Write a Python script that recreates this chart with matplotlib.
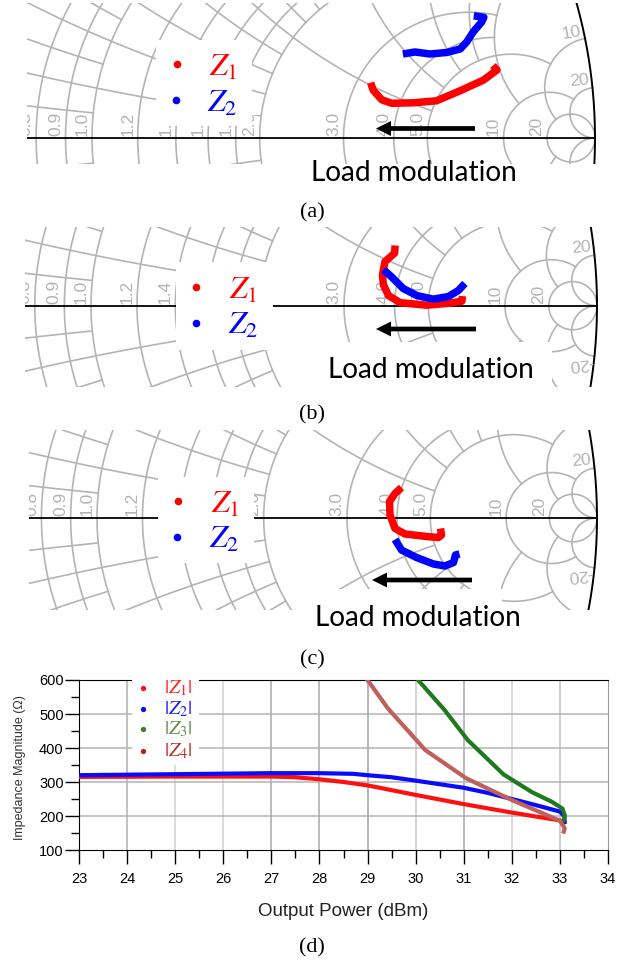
import numpy as np
import matplotlib
matplotlib.use("Agg")
import matplotlib.pyplot as plt
from matplotlib.patches import Rectangle, FancyArrow

plt.rcParams['font.family'] = ['Liberation Sans', 'DejaVu Sans']
plt.rcParams['mathtext.fontset'] = 'stix'

W, H = 625, 964
GRAY = '#b4b4b4'

# smith grid: constant resistance circles and how far they run in reactance
r_values = [0.8, 0.9, 1.0, 1.2, 1.4, 1.6, 1.8, 2.0, 3.0, 4.0, 5.0, 10.0, 20.0]
r_xlimit = [5, 5, 5, 5, 5, 5, 5, 5, 5, 5, 10, 20, 5000]

# constant reactance arcs and how far they run in resistance
x_values = [0.1, 0.2, 0.3, 0.4, 0.5, 0.6, 0.8, 1.0, 1.2, 1.4, 2.0, 3.0, 4.0, 5.0, 10.0, 20.0]
x_rlimit = [1, 2, 1, 2, 1, 2, 2, 5, 2, 2, 5, 5, 5, 10, 20, 5000]

r_labels = ['0.8', '0.9', '1.0', '1.2', '1.4', '1.6', '1.8', '2.0', '3.0', '4.0', '5.0', '10', '20']

# impedance trajectories, reflection coefficient (re, im)
a_z1_re = [.554, .559, .576, .596, .639, .685, .732, .778, .805, .797]
a_z1_im = [.110, .095, .076, .069, .070, .074, .094, .115, .135, .144]
a_z2_re = [.618, .642, .672, .705, .732, .745, .758, .775, .779, .759]
a_z2_im = [.167, .171, .167, .170, .177, .191, .211, .231, .240, .243]

b_z1_re = [.601, .600, .581, .576, .578, .588, .611, .663, .709, .733, .734]
b_z1_im = [.119, .104, .087, .061, .041, .020, .006, .001, .005, .009, .019]
b_z2_re = [.578, .594, .617, .644, .676, .706, .726, .739]
b_z2_im = [.071, .057, .034, .020, .013, .018, .030, .044]

c_z1_re = [.609, .596, .585, .586, .596, .616, .659, .683, .689, .687]
c_z1_im = [.061, .049, .033, .006, -.021, -.032, -.037, -.039, -.034, -.021]
c_z2_re = [.596, .609, .639, .673, .696, .713, .717, .725]
c_z2_im = [-.043, -.064, -.079, -.092, -.096, -.089, -.074, -.072]

# panel (d)
power_z1 = [23, 25, 27, 27.5, 28, 28.5, 29, 30, 31, 32, 33, 33.08]
mag_z1 = [315, 316, 316, 314, 308, 300, 290, 262, 235, 210, 187, 180]
power_z2 = [23, 25, 27, 28, 28.7, 29, 29.5, 30, 31, 31.5, 32, 32.5, 33, 33.09, 33.1]
mag_z2 = [320, 323, 326, 326, 324, 320, 314, 304, 283, 268, 250, 232, 213, 200, 183]
power_z3 = [30.05, 30.6, 31.08, 31.83, 32.42, 32.83, 33.05, 33.1, 33.08]
mag_z3 = [600, 512, 424, 322, 270, 242, 222, 203, 188]
power_z4 = [29.0, 29.42, 30.2, 31.05, 32, 33, 33.1, 33.08]
mag_z4 = [600, 517, 394, 311, 247, 186, 164, 154]

fig = plt.figure(figsize=(W / 100, H / 100), dpi=100)


def fig_text(x, y, s, **kw):
    return fig.text(x / W, 1 - y / H, s, **kw)


def smith_panel(cx, y0, R, left, right, top, bottom, masks, hidden):
    ax = fig.add_axes([left / W, 1 - bottom / H, (right - left) / W, (bottom - top) / H])
    ax.set_xlim((left - cx) / R, (right - cx) / R)
    ax.set_ylim((y0 - bottom) / R, (y0 - top) / R)
    ax.set_axis_off()

    for r, xlim in zip(r_values, r_xlimit):
        t = np.linspace(-np.arctan(xlim), np.arctan(xlim), 1500)
        g = (r + 1j * np.tan(t) - 1) / (r + 1j * np.tan(t) + 1)
        ax.plot(g.real, g.imag, color=GRAY, lw=1.2, zorder=1)
    for x, rlim in zip(x_values, x_rlimit):
        t = np.linspace(0, np.arctan(rlim), 1500)
        for sign in (1, -1):
            z = np.tan(t) + 1j * sign * x
            g = (z - 1) / (z + 1)
            ax.plot(g.real, g.imag, color=GRAY, lw=1.2, zorder=1)

    for r, lab in zip(r_values, r_labels):
        if lab in hidden:
            continue  # sits fully under the legend patch in the original
        ax.text((r - 1) / (r + 1) - 0.005, 0.003, lab, rotation=90, ha='right', va='bottom',
                color=GRAY, fontsize=12.5, clip_on=True, zorder=1)

    # outer circle and real axis
    th = np.linspace(-0.6, 0.6, 400)
    ax.plot(np.cos(th), np.sin(th), color='black', lw=1.4, zorder=3)
    ax.plot([-1, 1], [0, 0], color='black', lw=1.3, zorder=2)

    for mx0, mx1, my0, my1 in masks:
        ax.add_patch(Rectangle(((mx0 - cx) / R, (y0 - my1) / R), (mx1 - mx0) / R, (my1 - my0) / R,
                               facecolor='white', edgecolor='none', zorder=3.5))
    return ax


def trajectory(ax, re, im, color):
    ax.plot(re, im, color=color, lw=5.4, solid_capstyle='butt', solid_joinstyle='round', zorder=4)


def arrow(ax, cx, y0, R, tail, tip, y):
    ax.add_patch(FancyArrow((tail - cx) / R, (y0 - y) / R, (tip - tail) / R, 0,
                            width=4.7 / R, head_width=15 / R, head_length=15 / R,
                            length_includes_head=True, color='black', lw=0, zorder=5))


def legend_marks(ax, cx, y0, R, dots, labels):
    for (px, py), col in zip(dots, ['#ff0000', '#0000ff']):
        ax.plot([(px - cx) / R], [(y0 - py) / R], 'o', color=col, ms=5.5, mew=0, zorder=6)
    for (px, py), s, col in zip(labels, ['$Z_1$', '$Z_2$'], ['#ff0000', '#0000ff']):
        fig_text(px, py, s, color=col, fontsize=23, ha='left', va='baseline')


# (a)
ax_a = smith_panel(92, 138, 503, 27, 598, 3, 164, [(156, 252, 40, 126), (252, 260, 100, 115)], [])
trajectory(ax_a, a_z1_re, a_z1_im, '#ff0000')
trajectory(ax_a, a_z2_re, a_z2_im, '#0000ff')
arrow(ax_a, 92, 138, 503, 475, 376, 128.5)
legend_marks(ax_a, 92, 138, 503, [(176.7, 64), (175.7, 100)], [(209, 76), (207, 112)])
ax_a.text(.954, .208, '10', rotation=10, color=GRAY, fontsize=12.5, ha='center', va='center', clip_on=True)
ax_a.text(.969, .113, '20', rotation=5, color=GRAY, fontsize=12.5, ha='center', va='center', clip_on=True)

# (b)
ax_b = smith_panel(91, 305.7, 506, 25, 600, 227, 387, [(176, 273, 262, 350), (295, 552, 342, 388)],
                   ['1.6', '1.8', '2.0'])
trajectory(ax_b, b_z1_re, b_z1_im, '#ff0000')
trajectory(ax_b, b_z2_re, b_z2_im, '#0000ff')
arrow(ax_b, 91, 305.7, 506, 476, 376, 329)
legend_marks(ax_b, 91, 305.7, 506, [(196.3, 287), (195.7, 322.7)], [(229, 298.5), (228, 334)])
ax_b.text(.970, .115, '20', rotation=5, color=GRAY, fontsize=12.5, ha='center', va='center', clip_on=True)
ax_b.text(.968, -.114, '-20', rotation=185, color=GRAY, fontsize=12.5, ha='center', va='center', clip_on=True)

# (c)
ax_c = smith_panel(97, 518, 500, 29, 600, 430, 610, [(158, 254, 477, 563), (305, 502, 589, 611)],
                   ['1.4', '1.6', '1.8'])
trajectory(ax_c, c_z1_re, c_z1_im, '#ff0000')
trajectory(ax_c, c_z2_re, c_z2_im, '#0000ff')
arrow(ax_c, 97, 518, 500, 472, 372, 580)
legend_marks(ax_c, 97, 518, 500, [(178, 500.7), (177, 536.7)], [(211, 512.5), (209, 548)])
ax_c.text(.969, .115, '20', rotation=5, color=GRAY, fontsize=12.5, ha='center', va='center', clip_on=True)
ax_c.text(.966, -.114, '-20', rotation=185, color=GRAY, fontsize=12.5, ha='center', va='center', clip_on=True)

for px, py in [(311, 173), (328, 370), (315, 618)]:
    fig_text(px, py, 'Load modulation', family=['Lato', 'DejaVu Sans'], fontsize=20.2,
             ha='left', va='center', color='black')

for py, s in [(213, '(a)'), (415, '(b)'), (660, '(c)'), (948, '(d)')]:
    fig_text(312, py, s, family=['Liberation Serif'], fontsize=16, ha='center', va='center')

# (d) impedance magnitude against output power
ax = fig.add_axes([79 / W, 1 - 850 / H, (608 - 79) / W, (850 - 680) / H])
ax.set_xlim(23, 34)
ax.set_ylim(100, 600)
ax.set_xticks(range(23, 35))
ax.set_xticks(np.arange(23.5, 34, 1), minor=True)
ax.set_yticks(range(100, 601, 100))
ax.set_yticks(range(150, 600, 100), minor=True)
ax.tick_params(which='major', length=10, width=1, labelsize=10.5, pad=6)
ax.tick_params(which='minor', length=5.8, width=1)
ax.tick_params(axis='y', which='major', pad=1)
ax.spines['right'].set_color('#999999')

vgrid_pos = [24, 25, 26, 27, 28, 29, 30, 31, 32, 33]
vgrid_col = ['#b0b0b0', '#d2d2d2', '#d2d2d2', '#a8a8a8', '#a8a8a8', '#a0a0a0',
             '#c8c8c8', '#a8a8a8', '#d2d2d2', '#c0c0c0']
for xv, col in zip(vgrid_pos, vgrid_col):
    ax.axvline(xv, color=col, lw=1.1, zorder=1)
for yv in [200, 300, 400, 500]:
    ax.axhline(yv, color='#b4b4b4', lw=1.1, zorder=1)

ax.plot(power_z1, mag_z1, color='#ff1010', lw=3, zorder=3)
ax.plot(power_z2, mag_z2, color='#0a0aff', lw=3, zorder=3)
ax.plot(power_z3, mag_z3, color='#1f7a1f', lw=3, zorder=3)
ax.plot(power_z4, mag_z4, color='#c0605c', lw=3, zorder=3)

# legend box sits over the top of the frame
ax.add_patch(Rectangle((24.1, 350), 1.39, 252, facecolor='white', edgecolor='none',
                       zorder=3.5, clip_on=False))
leg_dot = ['#ff1010', '#0a0aff', '#3a7d2c', '#c01c1c']
leg_txt = ['#ff2020', '#1a1aff', '#5b8f48', '#b5302a']
leg_lab = ['$|Z_1|$', '$|Z_2|$', '$|Z_3|$', '$|Z_4|$']
leg_y = [688, 709, 729, 751]
for py, dc, tc, s in zip(leg_y, leg_dot, leg_txt, leg_lab):
    yv = 600 - (py - 680) / 170 * 500
    ax.plot([24.33], [yv], 'o', color=dc, ms=3.8, mew=0, zorder=4)
    ax.text(24.77, yv, s, color=tc, fontsize=14.5, ha='left', va='center', zorder=4)

fig_text(343, 911, 'Output Power (dBm)', fontsize=13.5, ha='center', va='center', color='#222222')
fig_text(20, 768, 'Impedance Magnitude (Ω)', fontsize=9, rotation=90, ha='center', va='center', color='#333333')

fig.savefig('out.png', dpi=100)
